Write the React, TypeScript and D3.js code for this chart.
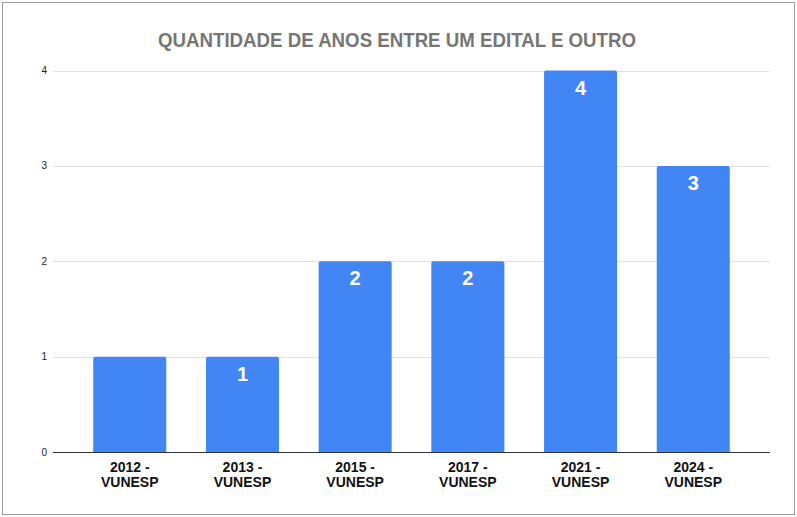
import React from "react";
import * as d3 from "d3";

const categories = ["2012 - VUNESP", "2013 - VUNESP", "2015 - VUNESP", "2017 - VUNESP", "2021 - VUNESP", "2024 - VUNESP"];
const values = [1, 1, 2, 2, 4, 3];
const showLabel = [false, true, true, true, true, true];
const yTicks = [0, 1, 2, 3, 4];
const title = "QUANTIDADE DE ANOS ENTRE UM EDITAL E OUTRO";

export default function App() {
  const W = 797, H = 517;
  const x = d3.scaleBand<string>().domain(categories).range([53, 770]).paddingInner(0.352).paddingOuter(0.357);
  const y = d3.scaleLinear().domain([0, 4]).range([452, 70.5]);
  const font = "Arial, 'Liberation Sans', sans-serif";
  return (
    <svg width={W} height={H} style={{ position: "absolute", left: 0, top: 0 }} fontFamily={font}>
      <rect x={0} y={0} width={W} height={H} fill="#fff" />
      <rect x={2.5} y={2.5} width={792} height={512} fill="none" stroke="#9e9e9e" strokeWidth={1} />
      <text x={397} y={47} textAnchor="middle" fontSize={20} fontWeight="bold" fill="#757575" textLength={478} lengthAdjust="spacingAndGlyphs">{title}</text>
      {yTicks.map((t) => (
        <g key={t}>
          <line x1={53} x2={770} y1={Math.round(y(t)) + 0.5} y2={Math.round(y(t)) + 0.5} stroke={t === 0 ? "#333" : "#e0e0e0"} strokeWidth={1} />
          <text x={47} y={y(t) + 3.5} textAnchor="end" fontSize={10} fill="#222">{t}</text>
        </g>
      ))}
      {categories.map((c, i) => {
        const bx = x(c)!;
        const bw = x.bandwidth();
        const top = y(values[i]);
        const [l1, l2] = c.split(" - ");
        return (
          <g key={c}>
            <path d={`M${bx},${y(0)} V${top + 2} Q${bx},${top} ${bx + 2},${top} H${bx + bw - 2} Q${bx + bw},${top} ${bx + bw},${top + 2} V${y(0)} Z`} fill="#4285f4" />
            {showLabel[i] && (
              <text x={bx + bw / 2} y={top + 24} textAnchor="middle" fontSize={20} fontWeight="bold" fill="#fff">{values[i]}</text>
            )}
            <text x={bx + bw / 2} y={472} textAnchor="middle" fontSize={14} fontWeight="bold" fill="#111">{l1 + " -"}</text>
            <text x={bx + bw / 2} y={487} textAnchor="middle" fontSize={14} fontWeight="bold" fill="#111">{l2}</text>
          </g>
        );
      })}
    </svg>
  );
}
